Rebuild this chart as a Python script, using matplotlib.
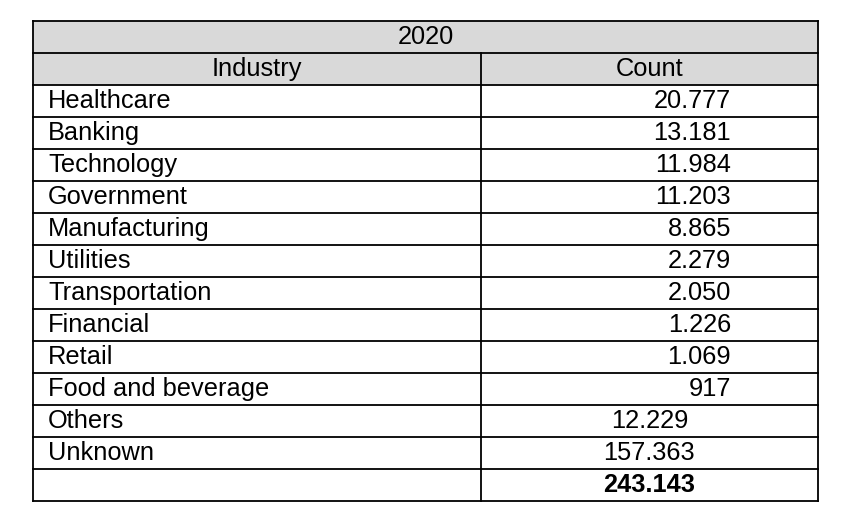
import matplotlib
matplotlib.use("Agg")
import matplotlib.pyplot as plt
from matplotlib.patches import Rectangle

plt.rcParams["font.family"] = ["Liberation Sans", "DejaVu Sans"]

YEAR = "2020"
HEADERS = ["Industry", "Count"]
industries = ["Healthcare", "Banking", "Technology", "Government", "Manufacturing",
              "Utilities", "Transportation", "Financial", "Retail",
              "Food and beverage", "Others", "Unknown", ""]
counts = ["20.777", "13.181", "11.984", "11.203", "8.865", "2.279", "2.050",
          "1.226", "1.069", "917", "12.229", "157.363", "243.143"]
# right edge of each count string (the source table is not aligned consistently)
count_right = [731] * 10 + [689, 695, 695]

fig = plt.figure(figsize=(8.54, 5.16), dpi=100)
ax = fig.add_axes([0, 0, 1, 1])
ax.set_xlim(0, 854); ax.set_ylim(516, 0); ax.axis("off")

left, mid, right = 33, 481, 818
top, rh = 21, 32
n_rows = 2 + len(industries)
bottom = top + rh * n_rows
fs = 18.3

# grey header rows
ax.add_patch(Rectangle((left, top), right - left, 2 * rh, color="#d9d9d9", lw=0))

for i in range(n_rows + 1):
    y = top + i * rh
    ax.plot([left, right], [y, y], color="black", lw=1.3)
ax.plot([left, left], [top, bottom], color="black", lw=1.3)
ax.plot([right, right], [top, bottom], color="black", lw=1.3)
ax.plot([mid, mid], [top + rh, bottom], color="black", lw=1.3)

ax.text((left + right) / 2, top + rh / 2, YEAR, fontsize=fs, ha="center", va="center")
ax.text((left + mid) / 2, top + 1.5 * rh, HEADERS[0], fontsize=fs, ha="center", va="center")
ax.text((mid + right) / 2, top + 1.5 * rh, HEADERS[1], fontsize=fs, ha="center", va="center")

for i, (name, c, xr) in enumerate(zip(industries, counts, count_right)):
    y = top + (i + 2.5) * rh
    ax.text(48, y, name, fontsize=fs, ha="left", va="center")
    bold = i == len(counts) - 1
    ax.text(xr, y, c, fontsize=fs, ha="right", va="center",
            fontweight="bold" if bold else "normal")

fig.savefig("out.png", dpi=100)
